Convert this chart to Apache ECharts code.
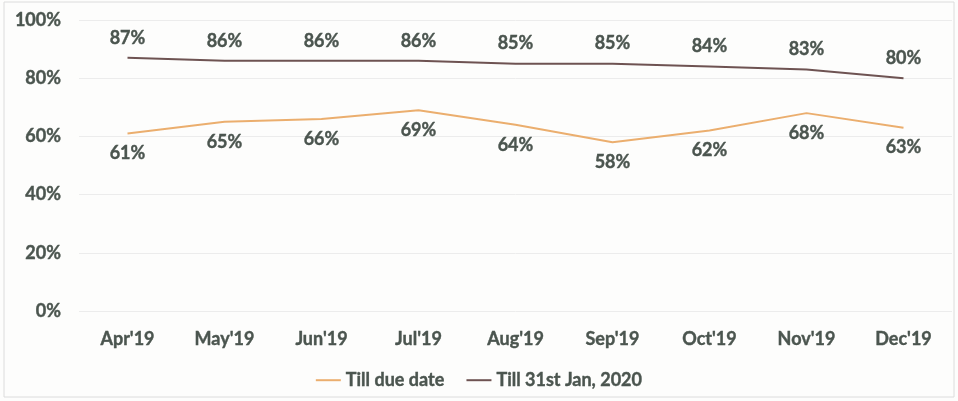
<!DOCTYPE html>
<html>
<head>
<meta charset="utf-8">
<script src="https://cdn.jsdelivr.net/npm/echarts@6/dist/echarts.min.js"></script>
<style>
  html, body { margin: 0; padding: 0; background: #fdfdfc; }
  #chart { width: 958px; height: 401px; }
</style>
</head>
<body>
<div id="chart"></div>
<script>
// Monthly collection rates, Apr'19 – Dec'19
const months = ["Apr'19", "May'19", "Jun'19", "Jul'19", "Aug'19", "Sep'19", "Oct'19", "Nov'19", "Dec'19"];
const tillDueDate = [61, 65, 66, 69, 64, 58, 62, 68, 63];
const tillJan2020 = [87, 86, 86, 86, 85, 85, 84, 83, 80];
const yTicks = [0, 20, 40, 60, 80, 100];

const textColor = '#4b554f';
const fontFamily = 'Lato, "Open Sans", sans-serif';
const labelFont = {
  color: textColor, fontFamily, fontWeight: 'bold', fontSize: 18,
  textBorderColor: textColor, textBorderWidth: 0.4
};

const chart = echarts.init(document.getElementById('chart'));
chart.setOption({
  backgroundColor: '#fdfdfc',
  animation: false,
  graphic: [{
    type: 'rect',
    shape: { x: 4, y: 2, width: 950, height: 395 },
    style: { fill: 'none', stroke: '#dcdcdc', lineWidth: 1 },
    silent: true
  }],
  grid: { left: 79, right: 6, top: 20, bottom: 90 },
  legend: {
    top: 366,
    left: 'center',
    itemWidth: 25,
    itemHeight: 2,
    itemGap: 22,
    icon: 'rect',
    textStyle: { ...labelFont },
    data: ['Till due date', 'Till 31st Jan, 2020']
  },
  xAxis: {
    type: 'category',
    data: months,
    boundaryGap: true,
    axisLine: { show: false },
    axisTick: { show: false },
    axisLabel: { ...labelFont, margin: 19 }
  },
  yAxis: {
    type: 'value',
    min: yTicks[0],
    max: yTicks[yTicks.length - 1],
    interval: 20,
    axisLine: { show: false },
    axisTick: { show: false },
    splitLine: { lineStyle: { color: '#ececec', width: 1 } },
    axisLabel: { ...labelFont, margin: 18, formatter: v => v + '%' }
  },
  series: [
    {
      name: 'Till due date',
      type: 'line',
      data: tillDueDate,
      symbol: 'circle',
      symbolSize: 0,
      showSymbol: true,
      lineStyle: { color: '#EBAE6E', width: 2 },
      itemStyle: { color: '#EBAE6E' },
      label: { show: true, position: 'bottom', distance: 11, ...labelFont, formatter: p => p.value + '%' }
    },
    {
      name: 'Till 31st Jan, 2020',
      type: 'line',
      data: tillJan2020,
      symbol: 'circle',
      symbolSize: 0,
      showSymbol: true,
      lineStyle: { color: '#6e5352', width: 2 },
      itemStyle: { color: '#6e5352' },
      label: { show: true, position: 'top', distance: 11, ...labelFont, formatter: p => p.value + '%' }
    }
  ]
});
</script>
</body>
</html>
